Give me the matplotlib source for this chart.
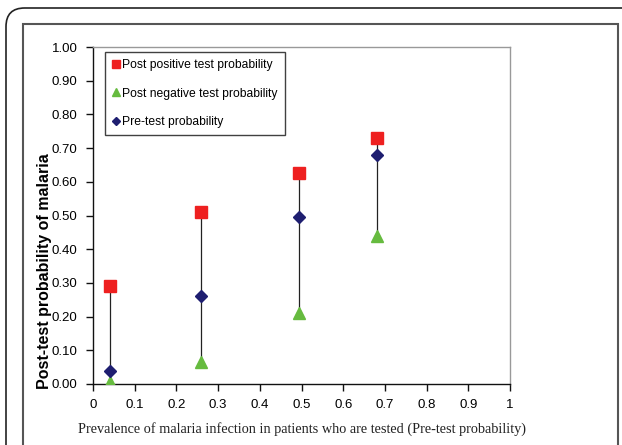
import matplotlib
matplotlib.use("Agg")
import matplotlib.pyplot as plt
from matplotlib.patches import FancyBboxPatch, Rectangle

pretest = [0.04, 0.26, 0.495, 0.68]
post_positive = [0.29, 0.51, 0.625, 0.73]
post_negative = [0.005, 0.065, 0.21, 0.44]
pre_prob = [0.04, 0.26, 0.495, 0.68]

xticks = [0, 0.1, 0.2, 0.3, 0.4, 0.5, 0.6, 0.7, 0.8, 0.9, 1]
xticklabels = ["0", "0.1", "0.2", "0.3", "0.4", "0.5", "0.6", "0.7", "0.8", "0.9", "1"]
yticks = [0.0, 0.1, 0.2, 0.3, 0.4, 0.5, 0.6, 0.7, 0.8, 0.9, 1.0]
yticklabels = ["%.2f" % v for v in yticks]

W, H = 622, 445
fig = plt.figure(figsize=(W / 100, H / 100), dpi=100)
fig.patch.set_facecolor("white")

# decorative frames
outer = FancyBboxPatch((6 / W, -0.2), 1.2, 1 - 8 / H + 0.2,
                       boxstyle="round,pad=0,rounding_size=0.03",
                       transform=fig.transFigure, fill=False,
                       edgecolor="#222222", linewidth=1.2, mutation_aspect=W / H)
fig.patches.append(outer)
inner = Rectangle((23 / W, -0.1), (618 - 23) / W, 1 - 24 / H + 0.1,
                  transform=fig.transFigure, fill=False,
                  edgecolor="#555555", linewidth=1.5)
fig.patches.append(inner)

ax = fig.add_axes([93 / W, 1 - 384 / H, (510 - 93) / W, (384 - 47) / H])
ax.set_xlim(0, 1)
ax.set_ylim(0, 1)

ax.vlines(pretest, post_negative, post_positive, colors="#222222", linewidth=0.9, zorder=2)
sq = ax.plot(pretest, post_positive, "s", color="#EE2020", markersize=8.5,
             linestyle="none", zorder=3, label="Post positive test probability")[0]
tr = ax.plot(pretest, post_negative, "^", color="#66BB3F", markersize=9,
             linestyle="none", zorder=3, label="Post negative test probability")[0]
di = ax.plot(pretest, pre_prob, "D", color="#1E1E70", markersize=6.5,
             linestyle="none", zorder=4, label="Pre-test probability")[0]

for s in ["left", "bottom"]:
    ax.spines[s].set_color("#111111")
    ax.spines[s].set_linewidth(1.0)
for s in ["top", "right"]:
    ax.spines[s].set_color("#999999")
    ax.spines[s].set_linewidth(1.0)

ax.set_xticks(xticks)
ax.set_xticklabels(xticklabels, fontfamily="Liberation Sans", fontsize=9.5)
ax.set_yticks(yticks)
ax.set_yticklabels(yticklabels, fontfamily="Liberation Sans", fontsize=9.5)
ax.tick_params(axis="both", direction="out", length=5, width=1, color="#111111", pad=6)

fig.text(302 / W, 1 - 429 / H,
         "Prevalence of malaria infection in patients who are tested (Pre-test probability)",
         ha="center", va="center", fontfamily="Liberation Serif", fontsize=10.3, color="#222222")
fig.text(45 / W, 1 - 271 / H, "Post-test probability of malaria", rotation=90,
         ha="center", va="center", fontfamily="Liberation Sans", fontweight="bold", fontsize=11.5)

leg = ax.legend(handles=[sq, tr, di], loc="upper left",
                bbox_to_anchor=((105 - 93) / (510 - 93), 1 - (52 - 47) / (384 - 47)),
                frameon=True, fancybox=False, edgecolor="#111111",
                prop={"family": "Liberation Sans", "size": 8.7},
                markerscale=0.6, handlelength=0.6, handletextpad=0.2,
                labelspacing=1.35, borderpad=0.6, borderaxespad=0, numpoints=1)
leg.get_frame().set_linewidth(1.0)

fig.savefig("out.png", dpi=100)
